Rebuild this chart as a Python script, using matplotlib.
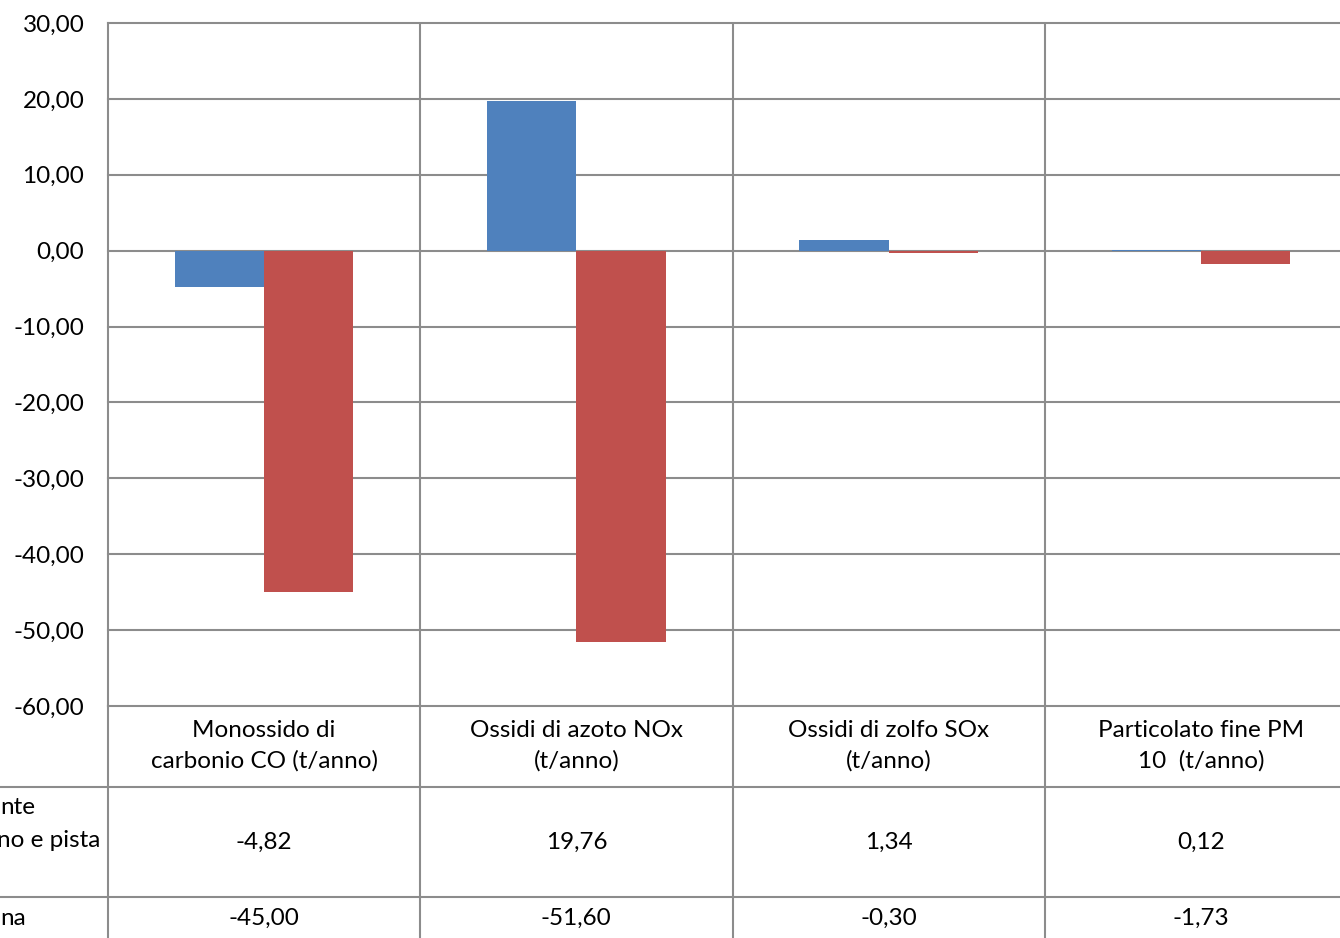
import matplotlib.pyplot as plt
from matplotlib.transforms import blended_transform_factory

categories = ['Monossido di\ncarbonio CO (t/anno)', 'Ossidi di azoto NOx\n(t/anno)',
              'Ossidi di zolfo SOx\n(t/anno)', 'Particolato fine PM\n10  (t/anno)']
serie_a = [-4.82, 19.76, 1.34, 0.12]
serie_b = [-45.00, -51.60, -0.30, -1.73]
etichette_a = ['nte', 'no e pista']
etichette_b = ['na']
yticks = [30, 20, 10, 0, -10, -20, -30, -40, -50, -60]

plt.rcParams['font.family'] = ['Lato', 'DejaVu Sans']
W, H = 1340, 938
fig = plt.figure(figsize=(W / 100, H / 100), dpi=100)

grid = '#8c8c8c'
lw = 1.5
fs = 17.5


def fy(px):
    return 1 - px / H


# plot area: x 108 -> 1357 px, y 23 -> 706 px
ax = fig.add_axes([108 / W, fy(706), (1357 - 108) / W, (706 - 23) / H])
ax.set_xlim(-0.5, 3.5)
ax.set_ylim(-60, 30)

x = range(len(categories))
bw = 1 / 3.5
ax.bar([i - bw / 2 for i in x], serie_a, bw, color='#4F81BD', zorder=3)
ax.bar([i + bw / 2 for i in x], serie_b, bw, color='#C0504D', zorder=3)

for y in yticks:
    ax.axhline(y, color=grid, lw=lw, zorder=1, clip_on=False)
for b in [0.5, 1.5, 2.5]:
    ax.axvline(b, color=grid, lw=lw, zorder=1)

for s in ax.spines.values():
    s.set_visible(False)
ax.spines['left'].set_visible(True)
ax.spines['left'].set_color(grid)
ax.spines['left'].set_linewidth(lw)

ax.set_xticks([])
ax.set_yticks(yticks)
ax.set_yticklabels([f'{v:.2f}'.replace('.', ',') for v in yticks], fontsize=fs)
ax.tick_params(axis='y', length=0, pad=17)

# data table under the plot
tr = blended_transform_factory(ax.transData, fig.transFigure)
for b in [-0.5, 0.5, 1.5, 2.5]:
    ax.plot([b, b], [fy(706), fy(H + 5)], transform=tr, color=grid, lw=lw,
            clip_on=False)
for py in [787, 897]:
    fig.add_artist(plt.Line2D([0, 1], [fy(py), fy(py)], color=grid, lw=lw))

for i, c in enumerate(categories):
    ax.text(i, fy(746), c, transform=tr, ha='center', va='center', fontsize=fs,
            linespacing=1.55)
    ax.text(i, fy(842), f'{serie_a[i]:.2f}'.replace('.', ','), transform=tr,
            ha='center', va='center', fontsize=fs)
    ax.text(i, fy(918), f'{serie_b[i]:.2f}'.replace('.', ','), transform=tr,
            ha='center', va='center', fontsize=fs)

fig.text(0, fy(807), etichette_a[0], ha='left', va='center', fontsize=fs)
fig.text(100 / W, fy(840), etichette_a[1], ha='right', va='center', fontsize=fs)
fig.text(0, fy(918), etichette_b[0], ha='left', va='center', fontsize=fs)

fig.savefig('out.png', dpi=100)
